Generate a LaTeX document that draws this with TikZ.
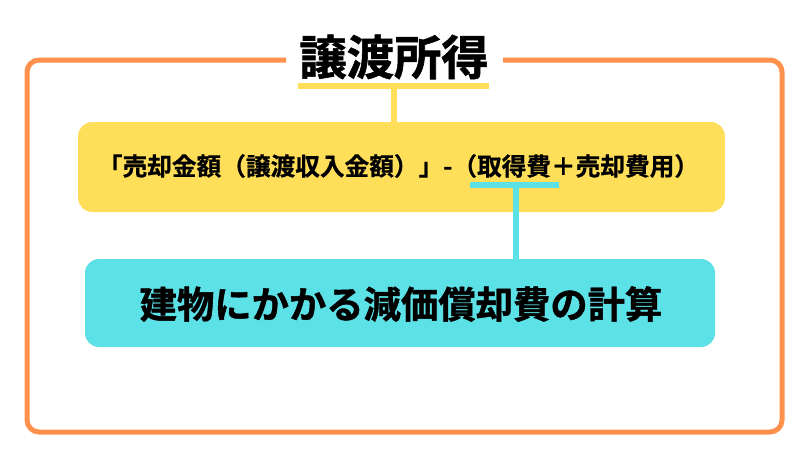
\documentclass[tikz,border=0pt]{standalone}
\usepackage{fontspec}
\setmainfont{Noto Sans CJK JP}[BoldFont={Noto Sans CJK JP Bold}]
\newfontfamily\heavyfont{Noto Sans CJK JP Bold}[FakeBold=1.2]
\newfontfamily\midfont{Noto Sans CJK JP Bold}[FakeBold=0.6]
\definecolor{frameorange}{HTML}{FF914D}
\definecolor{boxyellow}{HTML}{FFDE59}
\definecolor{boxcyan}{HTML}{5CE1E6}
\tikzset{
	barline/.style={line width=4.5pt},
	fillbox/.style={rounded corners=10.5pt,minimum height=#1,inner sep=0pt}
}
\begin{document}
\begin{tikzpicture}[x=0.75pt,y=-0.75pt]
	\useasboundingbox (0,0) rectangle (800,450);
	\fill[white] (0,0) rectangle (800,450);
	
	\draw[frameorange,line width=3.75pt,rounded corners=9pt] (286,60) -- (27,60) -- (27,432) -- (782,432) -- (782,60) -- (503,60);
	
	\node[font=\heavyfont\fontsize{35.5}{35.5}\selectfont,inner sep=0pt] (title) at (394,57) {譲渡所得};
	\coordinate (titlebar) at (394,86);
	\draw[boxyellow,line width=5pt] (298,86) -- (489,86);
	
	\draw[boxyellow,barline] (titlebar) -- (394,125);
	\node[fill=boxyellow,fillbox=67.5pt,minimum width=485pt] (formula) at (401.5,167) {};
	\node[font=\midfont\fontsize{18.5}{18.5}\selectfont,inner sep=0pt] (formulatext) at (398.5,166) {「売却金額（譲渡収入金額）」-（取得費＋売却費用）};
	
	\draw[boxcyan,line width=5pt] (470,185) -- (559,185);
	\coordinate (formulabar) at (516,185);
	\node[fill=boxcyan,fillbox=66pt,minimum width=472.5pt] (calc) at (400,303) {};
	\node[font=\heavyfont\fontsize{28}{28}\selectfont,inner sep=0pt] (calctext) at (401,304) {建物にかかる減価償却費の計算};
	\draw[boxcyan,line width=5pt] (formulabar) -- (516,261);
\end{tikzpicture}
\end{document}
